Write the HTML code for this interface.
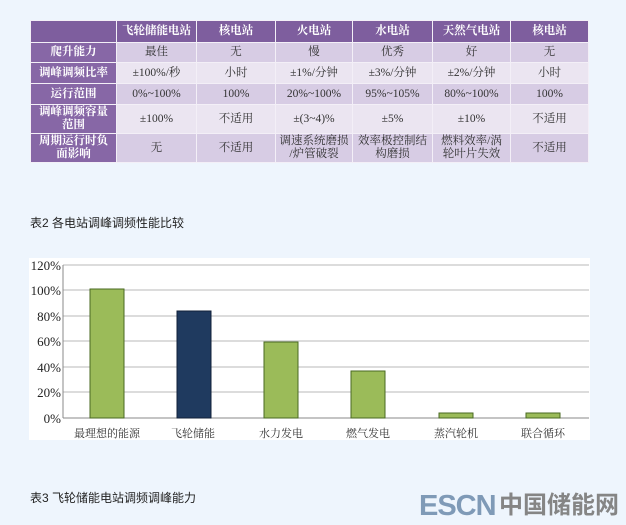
<!DOCTYPE html>
<html><head><meta charset="utf-8"><style>
body{margin:0;width:626px;height:525px;background:#eef5fd;position:relative;overflow:hidden;font-family:"Liberation Serif","Noto Serif CJK SC",serif}
table{position:absolute;left:30px;top:20px;border-collapse:collapse;font-size:11.5px;color:#333;table-layout:fixed}
td{text-align:center;padding:0;border:1px solid #f3eff7;line-height:13px;overflow:hidden}
tr.h td{background:#7e5e9e;color:#fff;font-weight:bold;height:21px}
td.f{background:#8767a6;color:#fff;font-weight:bold}
tr.a td{background:#d7cce4}
tr.b td{background:#ebe5f1}
tr.a td.f,tr.b td.f{background:#8767a6}
.cap{position:absolute;left:30px;font-family:"Liberation Sans","Noto Sans CJK SC",sans-serif;font-size:12px;color:#222}
</style></head><body>
<table>
<colgroup><col style="width:86px"><col style="width:80px"><col style="width:79px"><col style="width:77px"><col style="width:80px"><col style="width:78px"><col style="width:78px"></colgroup>
<tr class="h"><td></td><td>飞轮储能电站</td><td>核电站</td><td>火电站</td><td>水电站</td><td>天然气电站</td><td>核电站</td></tr>
<tr class="a" style="height:20px"><td class="f">爬升能力</td><td>最佳</td><td>无</td><td>慢</td><td>优秀</td><td>好</td><td>无</td></tr>
<tr class="b" style="height:21px"><td class="f">调峰调频比率</td><td>±100%/秒</td><td>小时</td><td>±1%/分钟</td><td>±3%/分钟</td><td>±2%/分钟</td><td>小时</td></tr>
<tr class="a" style="height:21px"><td class="f">运行范围</td><td>0%~100%</td><td>100%</td><td>20%~100%</td><td>95%~105%</td><td>80%~100%</td><td>100%</td></tr>
<tr class="b" style="height:29px"><td class="f">调峰调频容量<br>范围</td><td>±100%</td><td>不适用</td><td>±(3~4)%</td><td>±5%</td><td>±10%</td><td>不适用</td></tr>
<tr class="a" style="height:29px"><td class="f">周期运行时负<br>面影响</td><td>无</td><td>不适用</td><td>调速系统磨损<br>/炉管破裂</td><td>效率极控制结<br>构磨损</td><td>燃料效率/涡<br>轮叶片失效</td><td>不适用</td></tr>
</table>
<div class="cap" style="top:214px">表2 各电站调峰调频性能比较</div>
<svg style="position:absolute;left:0;top:0" width="626" height="525">
<rect x="29" y="258" width="561" height="182" fill="#fff"/>
<g stroke="#c8c8c8" stroke-width="1.2">
<line x1="63" x2="589" y1="265" y2="265"/><line x1="63" x2="589" y1="290" y2="290"/>
<line x1="63" x2="589" y1="316" y2="316"/><line x1="63" x2="589" y1="341" y2="341"/>
<line x1="63" x2="589" y1="367" y2="367"/><line x1="63" x2="589" y1="392" y2="392"/>
</g>
<line x1="63" x2="589" y1="418" y2="418" stroke="#888"/>
<line x1="63" x2="63" y1="265" y2="418" stroke="#888"/>
<g fill="#9bbb59" stroke="#4a6a22" stroke-width="1">
<rect x="90" y="289" width="34" height="129"/>
<rect x="264" y="342" width="34" height="76"/>
<rect x="351" y="371" width="34" height="47"/>
<rect x="439" y="413" width="34" height="5"/>
<rect x="526" y="413" width="34" height="5"/>
</g>
<rect x="177" y="311" width="34" height="107" fill="#1f3a5f" stroke="#10203a"/>
<g font-family="Liberation Serif" font-size="13" fill="#222" text-anchor="end">
<text x="61" y="270">120%</text><text x="61" y="295">100%</text><text x="61" y="321">80%</text>
<text x="61" y="346">60%</text><text x="61" y="372">40%</text><text x="61" y="397">20%</text><text x="61" y="423">0%</text>
</g>
<g font-family="Liberation Serif,Noto Serif CJK SC,serif" font-size="11" fill="#333" text-anchor="middle">
<text x="107" y="437">最理想的能源</text><text x="193" y="437">飞轮储能</text><text x="281" y="437">水力发电</text>
<text x="368" y="437">燃气发电</text><text x="456" y="437">蒸汽轮机</text><text x="543" y="437">联合循环</text>
</g>
<text x="419" y="515" font-family="Liberation Sans" font-weight="bold" font-size="29" fill="#7f9ab7" letter-spacing="-1">ESCN</text>
<text x="499" y="513" font-family="Noto Sans CJK SC,sans-serif" font-weight="bold" font-size="24" fill="#858585">中国储能网</text>
</svg>
<div class="cap" style="top:489px">表3 飞轮储能电站调频调峰能力</div>
</body></html>
